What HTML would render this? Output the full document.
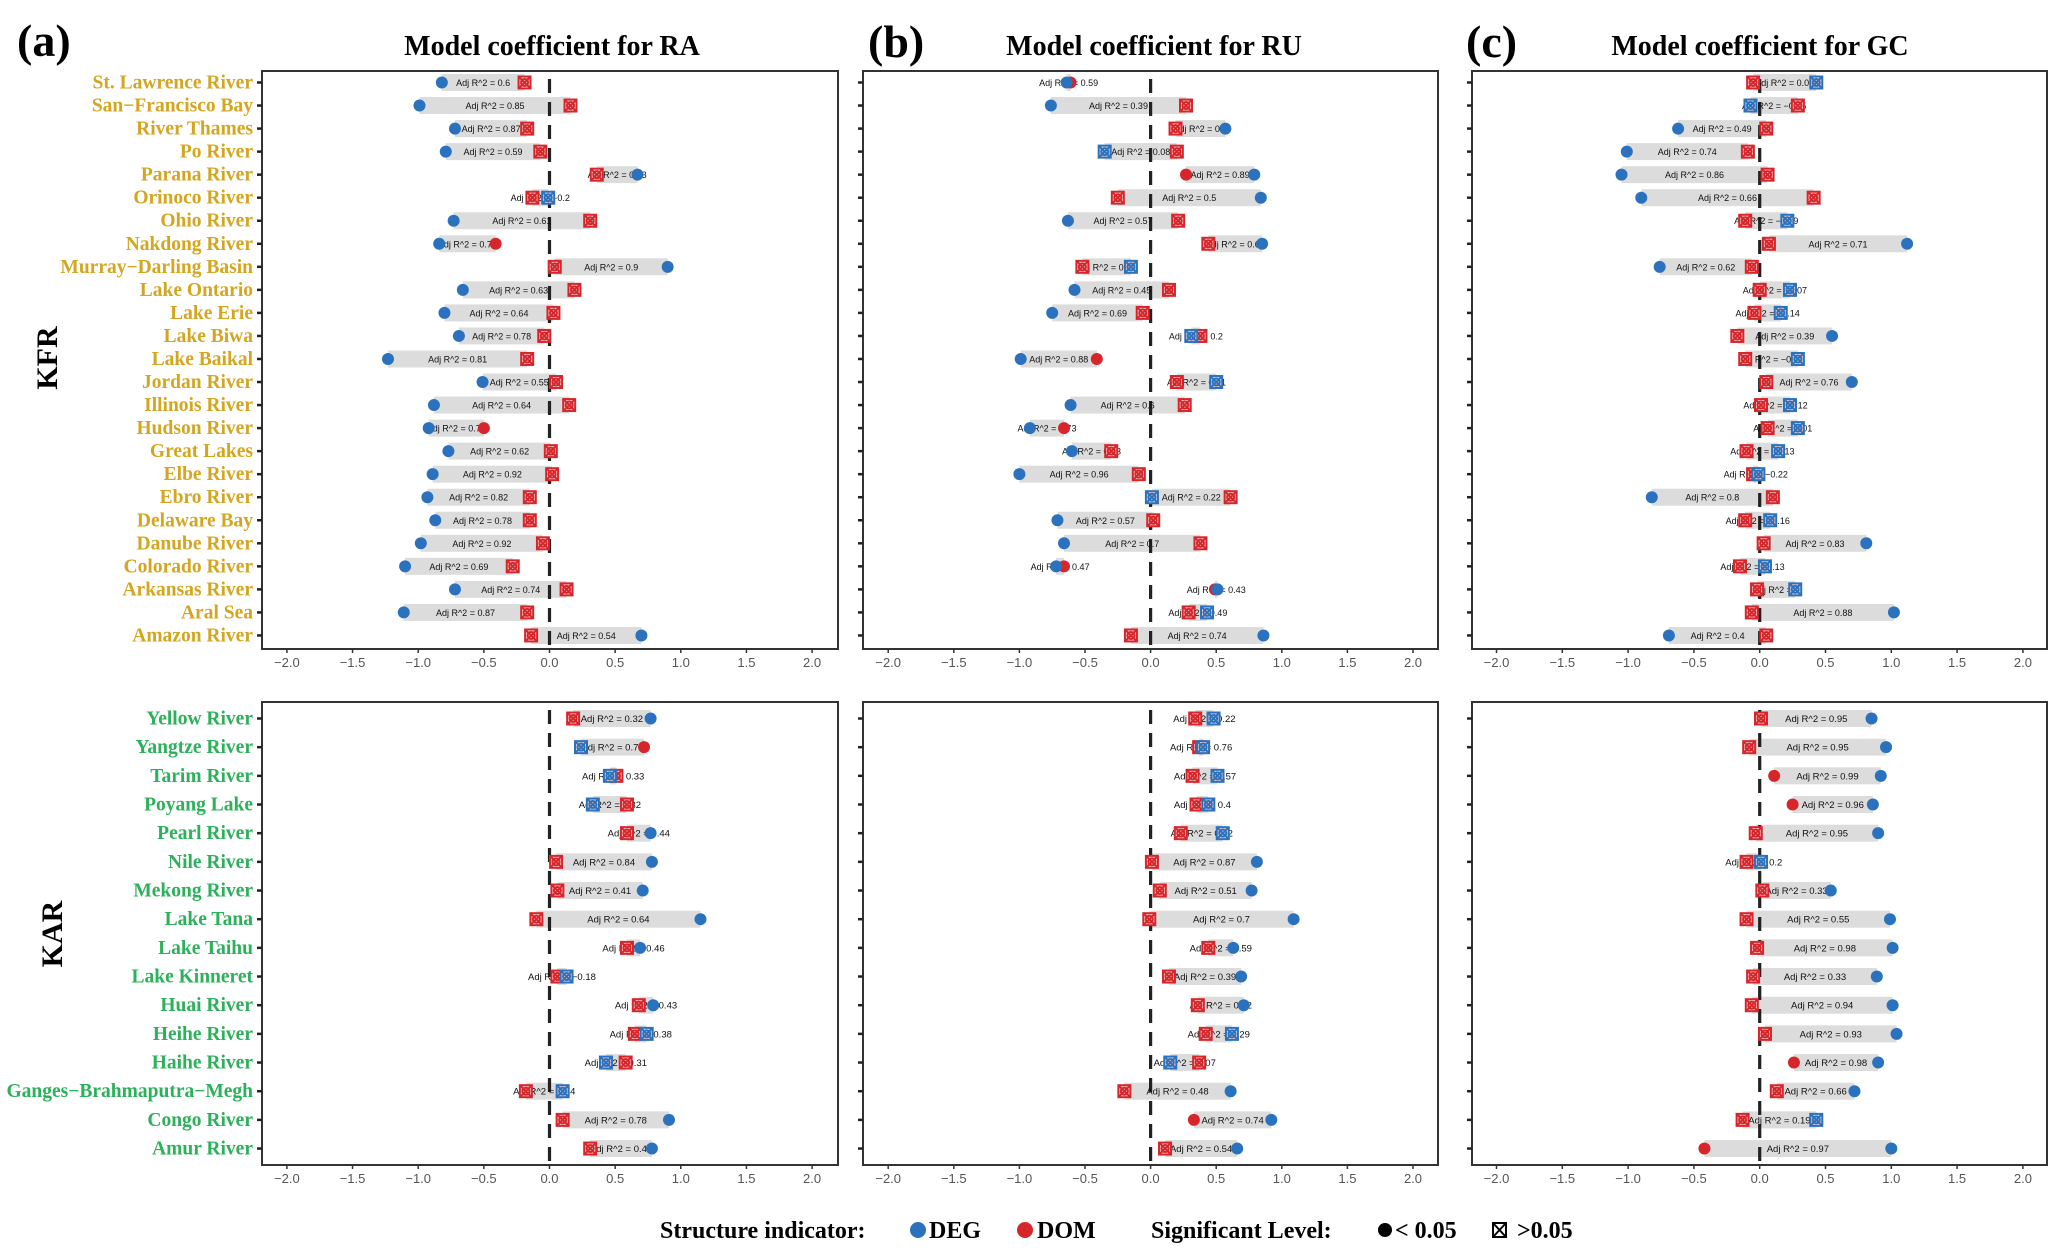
<!DOCTYPE html>
<html><head><meta charset="utf-8">
<style>
html,body{margin:0;padding:0;background:#fff;}
svg{display:block;}
</style></head>
<body>
<svg id="chart" width="2067" height="1258" viewBox="0 0 2067 1258" xmlns="http://www.w3.org/2000/svg">
<g id="static" font-family="Liberation Serif, serif" font-weight="bold">
  <text x="17" y="56" font-size="46">(a)</text>
  <text x="868" y="57" font-size="46">(b)</text>
  <text x="1466" y="57" font-size="46">(c)</text>
  <text x="552" y="55" font-size="28" text-anchor="middle">Model coefficient for RA</text>
  <text x="1154" y="55" font-size="28" text-anchor="middle">Model coefficient for RU</text>
  <text x="1760" y="55" font-size="28" text-anchor="middle">Model coefficient for GC</text>
  <text transform="translate(57,358) rotate(-90)" font-size="30" text-anchor="middle">KFR</text>
  <text transform="translate(62,934) rotate(-90)" font-size="30" text-anchor="middle">KAR</text>
  <g font-size="24">
    <text x="660" y="1238">Structure indicator:</text>
    <circle cx="918" cy="1230" r="8" fill="#2a72be"/>
    <text x="929" y="1238">DEG</text>
    <circle cx="1025" cy="1230" r="8" fill="#d7262b"/>
    <text x="1037" y="1238">DOM</text>
    <text x="1151" y="1238">Significant Level:</text>
    <circle cx="1385" cy="1230" r="7" fill="#000"/>
    <text x="1395" y="1238">&lt; 0.05</text>
    <g fill="none" stroke="#000" stroke-width="2">
      <rect x="1493" y="1223" width="13" height="14"/><line x1="1493" y1="1223" x2="1506" y2="1237"/><line x1="1506" y1="1223" x2="1493" y2="1237"/>
    </g>
    <text x="1517" y="1238">&gt;0.05</text>
  </g>
</g>
<g id="plots"></g>
</svg>
<script>
// ---------- categories ----------
const kfrNames = ["St. Lawrence River","San−Francisco Bay","River Thames","Po River","Parana River","Orinoco River","Ohio River","Nakdong River","Murray−Darling Basin","Lake Ontario","Lake Erie","Lake Biwa","Lake Baikal","Jordan River","Illinois River","Hudson River","Great Lakes","Elbe River","Ebro River","Delaware Bay","Danube River","Colorado River","Arkansas River","Aral Sea","Amazon River"];
const karNames = ["Yellow River","Yangtze River","Tarim River","Poyang Lake","Pearl River","Nile River","Mekong River","Lake Tana","Lake Taihu","Lake Kinneret","Huai River","Heihe River","Haihe River","Ganges−Brahmaputra−Megh","Congo River","Amur River"];
const xTicks = [-2.0,-1.5,-1.0,-0.5,0.0,0.5,1.0,1.5,2.0];
const xTickLabels = ["−2.0","−1.5","−1.0","−0.5","0.0","0.5","1.0","1.5","2.0"];

// ---------- KFR: RA ----------
const degRA = [-0.82,-0.99,-0.72,-0.79,0.67,-0.01,-0.73,-0.84,0.9,-0.66,-0.8,-0.69,-1.23,-0.51,-0.88,-0.92,-0.77,-0.89,-0.93,-0.87,-0.98,-1.1,-0.72,-1.11,0.7];
const degSigRA = [1,1,1,1,1,0,1,1,1,1,1,1,1,1,1,1,1,1,1,1,1,1,1,1,1];
const domRA = [-0.19,0.16,-0.17,-0.07,0.36,-0.13,0.31,-0.41,0.04,0.19,0.03,-0.04,-0.17,0.05,0.15,-0.5,0.01,0.02,-0.15,-0.15,-0.05,-0.28,0.13,-0.17,-0.14];
const domSigRA = [0,0,0,0,0,0,0,1,0,0,0,0,0,0,0,1,0,0,0,0,0,0,0,0,0];
const r2RA = ["0.6","0.85","0.87","0.59","0.73","−0.2","0.61","0.78","0.9","0.63","0.64","0.78","0.81","0.55","0.64","0.78","0.62","0.92","0.82","0.78","0.92","0.69","0.74","0.87","0.54"];
// ---------- KFR: RU ----------
const degRU = [-0.64,-0.76,0.57,-0.35,0.79,0.84,-0.63,0.85,-0.15,-0.58,-0.75,0.31,-0.99,0.5,-0.61,-0.92,-0.6,-1.0,0.01,-0.71,-0.66,-0.72,0.51,0.43,0.86];
const degSigRU = [1,1,1,0,1,1,1,1,0,1,1,0,1,0,1,1,1,1,0,1,1,1,1,0,1];
const domRU = [-0.61,0.27,0.19,0.2,0.27,-0.25,0.21,0.44,-0.52,0.14,-0.06,0.38,-0.41,0.2,0.26,-0.66,-0.3,-0.09,0.61,0.02,0.38,-0.66,0.49,0.29,-0.15];
const domSigRU = [1,0,0,0,1,0,0,0,0,0,0,0,1,0,0,1,0,0,0,0,0,1,1,0,0];
const r2RU = ["0.59","0.39","0.7","0.08","0.89","0.5","0.57","0.65","0.18","0.45","0.69","0.2","0.88","0.21","0.6","0.73","0.33","0.96","0.22","0.57","0.7","0.47","0.43","0.49","0.74"];
// ---------- KFR: GC ----------
const degGC = [0.43,-0.07,-0.62,-1.01,-1.05,-0.9,0.21,1.12,-0.76,0.23,0.16,0.55,0.29,0.7,0.23,0.29,0.14,-0.01,-0.82,0.08,0.81,0.04,0.27,1.02,-0.69];
const degSigGC = [0,0,1,1,1,1,0,1,1,0,0,1,0,1,0,0,0,0,1,0,1,0,0,1,1];
const domGC = [-0.05,0.29,0.05,-0.09,0.06,0.41,-0.11,0.07,-0.06,0.0,-0.04,-0.17,-0.11,0.05,0.01,0.06,-0.1,-0.05,0.1,-0.11,0.03,-0.15,-0.02,-0.06,0.05];
const domSigGC = [0,0,0,0,0,0,0,0,0,0,0,0,0,0,0,0,0,0,0,0,0,0,0,0,0];
const r2GC = ["0.03","−0.05","0.49","0.74","0.86","0.66","−0.09","0.71","0.62","−0.07","−0.14","0.39","−0.02","0.76","−0.12","0.01","−0.13","−0.22","0.8","−0.16","0.83","−0.13","0","0.88","0.4"];
// ---------- KAR: RA ----------
const degRA2 = [0.77,0.24,0.46,0.33,0.77,0.78,0.71,1.15,0.69,0.13,0.79,0.74,0.43,0.1,0.91,0.78];
const degSigRA2 = [1,0,0,0,1,1,1,1,1,0,1,0,0,0,1,1];
const domRA2 = [0.18,0.72,0.51,0.59,0.59,0.05,0.06,-0.1,0.59,0.06,0.68,0.65,0.58,-0.18,0.1,0.31];
const domSigRA2 = [0,1,0,0,0,0,0,0,0,0,0,0,0,0,0,0];
const r2RA2 = ["0.32","0.73","0.33","0.32","0.44","0.84","0.41","0.64","0.46","−0.18","0.43","0.38","0.31","0.14","0.78","0.42"];
// ---------- KAR: RU ----------
const degRU2 = [0.48,0.4,0.51,0.44,0.55,0.81,0.77,1.09,0.63,0.69,0.71,0.62,0.15,0.61,0.92,0.66];
const degSigRU2 = [0,0,0,0,0,1,1,1,1,1,1,0,0,1,1,1];
const domRU2 = [0.34,0.37,0.32,0.35,0.23,0.01,0.07,-0.01,0.44,0.14,0.36,0.42,0.37,-0.2,0.33,0.11];
const domSigRU2 = [0,0,0,0,0,0,0,0,0,0,0,0,0,0,1,0];
const r2RU2 = ["0.22","0.76","0.57","0.4","0.22","0.87","0.51","0.7","0.59","0.39","0.52","0.29","0.07","0.48","0.74","0.54"];
// ---------- KAR: GC ----------
const degGC2 = [0.85,0.96,0.92,0.86,0.9,0.01,0.54,0.99,1.01,0.89,1.01,1.04,0.9,0.72,0.43,1.0];
const degSigGC2 = [1,1,1,1,1,0,1,1,1,1,1,1,1,1,0,1];
const domGC2 = [0.01,-0.08,0.11,0.25,-0.03,-0.1,0.02,-0.1,-0.02,-0.05,-0.06,0.04,0.26,0.13,-0.13,-0.42];
const domSigGC2 = [0,0,1,1,0,0,0,0,0,0,0,0,1,0,0,1];
const r2GC2 = ["0.95","0.95","0.99","0.96","0.95","0.2","0.33","0.55","0.98","0.33","0.94","0.93","0.98","0.66","0.19","0.97"];

const NS = "http://www.w3.org/2000/svg";
const BLUE = "#2a72be", RED = "#d7262b";
const root = document.getElementById("plots");
function mk(tag, attrs, parent) {
  const e = document.createElementNS(NS, tag);
  for (const k in attrs) e.setAttribute(k, attrs[k]);
  parent.appendChild(e);
  return e;
}

// layout of panels (pixel geometry, not data)
const cols = [
  {id:"ra", left:262, right:838, zero:549.5, unit:131.3},
  {id:"ru", left:863, right:1438, zero:1150.6, unit:131.2},
  {id:"gc", left:1472, right:2047, zero:1759.7, unit:131.6}
];
const rowsLayout = [
  {id:"kfr", top:71, bottom:649, first:82.5, step:23.04, tickY:667, names:kfrNames, color:"#d4a51e", fs:9},
  {id:"kar", top:702, bottom:1165, first:718.5, step:28.67, tickY:1183, names:karNames, color:"#2bb15a", fs:9.5}
];
const dataSets = {
  "kfr-ra":[degRA,degSigRA,domRA,domSigRA,r2RA],
  "kfr-ru":[degRU,degSigRU,domRU,domSigRU,r2RU],
  "kfr-gc":[degGC,degSigGC,domGC,domSigGC,r2GC],
  "kar-ra":[degRA2,degSigRA2,domRA2,domSigRA2,r2RA2],
  "kar-ru":[degRU2,degSigRU2,domRU2,domSigRU2,r2RU2],
  "kar-gc":[degGC2,degSigGC2,domGC2,domSigGC2,r2GC2]
};

function drawMarker(g, x, y, sig, color, name) {
  if (sig) {
    const c = mk("circle", {cx:x, cy:y, r:6, fill:color}, g);
    
    
  } else {
    const m = mk("g", {stroke:color, "stroke-width":2, fill:"none"}, g);
    
    
    mk("rect", {x:x-6, y:y-6, width:12, height:12, fill:"#f3c9c9"}, m);
    mk("line", {x1:x-6, y1:y-6, x2:x+6, y2:y+6}, m);
    mk("line", {x1:x+6, y1:y-6, x2:x-6, y2:y+6}, m);
    mk("circle", {cx:x, cy:y, r:3.5}, m);
  }
}

rowsLayout.forEach(R => {
  cols.forEach((C, ci) => {
    const key = R.id + "-" + C.id;
    const [deg, degSig, dom, domSig, r2] = dataSets[key];
    const xs = v => C.zero + v * C.unit;
    const ys = i => R.first + i * R.step;
    const g = mk("g", {}, root);
    
    

    // box
    const box = mk("rect", {x:C.left, y:R.top, width:C.right-C.left, height:R.bottom-R.top, fill:"none", stroke:"#333", "stroke-width":2}, g);
    
    

    // x ticks
    xTicks.forEach((t, k) => {
      const tx = mk("text", {x:xs(t), y:R.tickY, "font-family":"Liberation Sans, sans-serif", "font-size":13, fill:"#555", "text-anchor":"middle"}, g);
      tx.textContent = xTickLabels[k];
      
      
      mk("line", {x1:xs(t), y1:R.bottom, x2:xs(t), y2:R.bottom+4, stroke:"#333", "stroke-width":1.5}, g);
    });

    // y ticks & category labels
    R.names.forEach((n, i) => {
      mk("line", {x1:C.left-5, y1:ys(i), x2:C.left, y2:ys(i), stroke:"#222", "stroke-width":2.5}, g);
      if (ci === 0) {
        const lt = mk("text", {x:C.left-9, y:ys(i)+6, "font-family":"Liberation Serif, serif", "font-weight":"bold", "font-size":19.5, fill:R.color, "text-anchor":"end"}, g);
        lt.textContent = n;
        
        
      }
    });

    // bars
    deg.forEach((d, i) => {
      const lo = Math.min(d, dom[i]), hi = Math.max(d, dom[i]);
      const b = mk("rect", {x:xs(lo), y:ys(i)-8.5, width:Math.max(xs(hi)-xs(lo), 1), height:17, fill:"#dcdcdc"}, g);
      
      
    });

    // zero dashed line
    const zl = mk("line", {x1:xs(0), y1:R.top+8, x2:xs(0), y2:R.bottom, stroke:"#222", "stroke-width":3.2, "stroke-dasharray":"14 9"}, g);
    
    

    // labels
    deg.forEach((d, i) => {
      const mid = (d + dom[i]) / 2;
      const t = mk("text", {x:xs(mid), y:ys(i)+3.5, "font-family":"Liberation Sans, sans-serif", "font-size":R.fs, fill:"#111", "text-anchor":"middle"}, g);
      t.textContent = "Adj R^2 = " + r2[i];
      
      
    });

    // markers
    deg.forEach((d, i) => {
      drawMarker(g, xs(dom[i]), ys(i), domSig[i], RED, 'dom-point');
      drawMarker(g, xs(d), ys(i), degSig[i], BLUE, 'deg-point');
    });
  });
});
</script>
</body></html>
